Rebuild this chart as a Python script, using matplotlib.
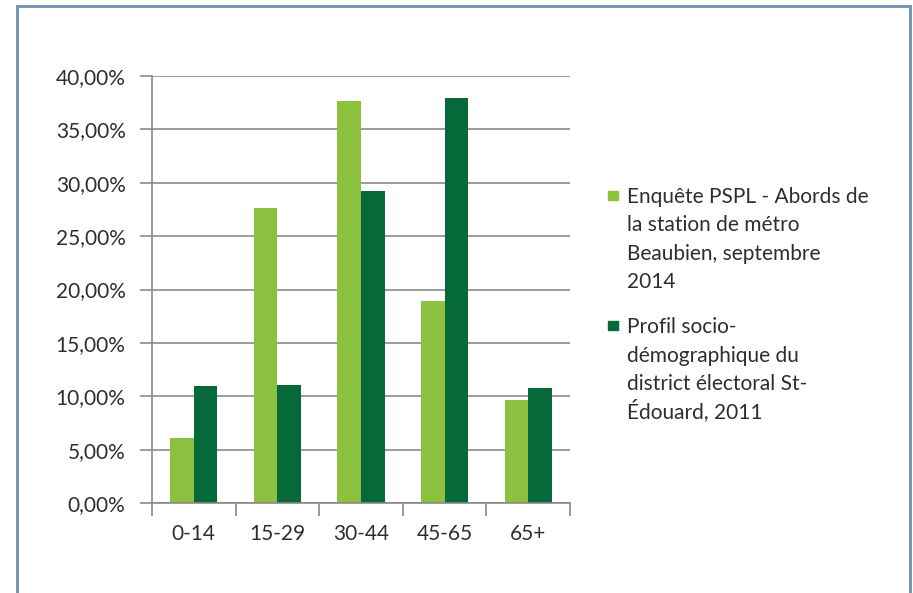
import matplotlib
matplotlib.use('Agg')
import matplotlib.pyplot as plt
from matplotlib.patches import Rectangle
from matplotlib.ticker import FuncFormatter, FixedLocator
import numpy as np

categories = ['0-14', '15-29', '30-44', '45-65', '65+']
enquete = [6.06, 27.62, 37.62, 18.94, 9.64]
profil = [10.98, 11.08, 29.19, 37.93, 10.77]
series_labels = [
    ["Enquête PSPL - Abords de", "la station de métro", "Beaubien, septembre", "2014"],
    ["Profil socio-", "démographique du", "district électoral St-", "Édouard, 2011"],
]
colors = ['#8cc13f', '#05693a']
yticks = [0, 5, 10, 15, 20, 25, 30, 35, 40]

plt.rcParams['font.family'] = ['Lato', 'DejaVu Sans']
W, H = 913, 593
fig = plt.figure(figsize=(W / 100, H / 100), dpi=100)
fig.patch.set_facecolor('white')

ax = fig.add_axes([152 / W, 1 - 503 / H, (570 - 152) / W, (503 - 76) / H])
x = np.arange(len(categories))
bw = 0.282
ax.bar(x - bw / 2, enquete, width=bw, color=colors[0], zorder=3, linewidth=0)
ax.bar(x + bw / 2, profil, width=bw, color=colors[1], zorder=3, linewidth=0)

ax.set_xlim(-0.5, len(categories) - 0.5)
ax.set_ylim(0, 40)
ax.yaxis.set_major_locator(FixedLocator(yticks))
ax.yaxis.set_major_formatter(FuncFormatter(lambda v, p: f"{v:.2f}".replace('.', ',') + '%'))
ax.set_xticks(x)
ax.set_xticklabels(categories)
ax.set_xticks(np.arange(len(categories) + 1) - 0.5, minor=True)

gridc = '#8a8a8a'
txtc = '#2e2e2e'
fs = 15
ax.grid(axis='y', color=gridc, linewidth=1.2, zorder=1)
for s in ['top', 'right']:
    ax.spines[s].set_visible(False)
for s in ['left', 'bottom']:
    ax.spines[s].set_color(gridc)
    ax.spines[s].set_linewidth(1.2)
ax.spines['bottom'].set_zorder(4)

ax.tick_params(axis='y', which='major', length=9, width=1.2, color=gridc, pad=10,
               labelsize=fs, labelcolor=txtc)
ax.tick_params(axis='x', which='major', length=0, pad=15, labelsize=fs, labelcolor=txtc)
ax.tick_params(axis='x', which='minor', length=9, width=1.2, color=gridc)

# legend
sq = 9.5 / W
line_gap = 28.5
first_baselines = [203, 333]
for i, (lab, col) in enumerate(zip(series_labels, colors)):
    b0 = first_baselines[i]
    fig.patches.append(Rectangle((608 / W, 1 - (b0 - 3) / H), sq, 9.5 / H,
                                 transform=fig.transFigure, color=col))
    for j, line in enumerate(lab):
        fig.text(627 / W, 1 - (b0 + j * line_gap) / H, line, fontsize=fs,
                 color=txtc, va='baseline', ha='left')

# frame border
fig.patches.append(Rectangle((16.5 / W, -0.05), (909.5 - 16.5) / W, 1.05 - 6 / H,
                             transform=fig.transFigure, fill=False,
                             edgecolor='#7191b4', linewidth=2.0, clip_on=False))

fig.savefig('out.png', dpi=100)
